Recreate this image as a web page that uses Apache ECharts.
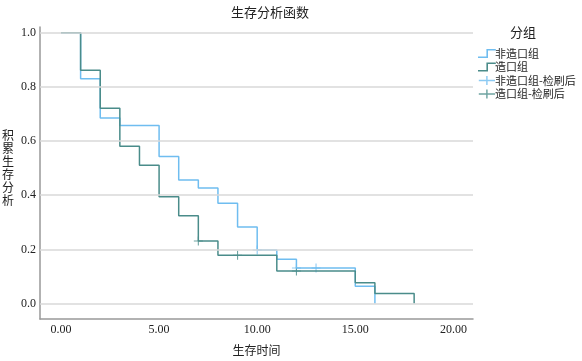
<!DOCTYPE html>
<html>
<head>
<meta charset="utf-8">
<script src="https://cdn.jsdelivr.net/npm/echarts@6/dist/echarts.min.js"></script>
<style>
  html, body { margin: 0; padding: 0; background: #fff; }
  #chart { width: 582px; height: 361px; }
</style>
</head>
<body>
<div id="chart"></div>
<script>
// 非造口组
const blueTimes = [0, 1, 2, 3, 5, 6, 7, 8, 9, 10, 11, 12, 15, 16];
const blueSurv = [1, 0.83, 0.685, 0.657, 0.543, 0.456, 0.427, 0.37, 0.283, 0.198, 0.164, 0.131, 0.064, 0];
const blueCensorT = [10, 12, 13];
const blueCensorS = [0.198, 0.131, 0.131];
// 造口组
const greenTimes = [0, 1, 2, 3, 4, 5, 6, 7, 8, 11, 15, 16, 18];
const greenSurv = [1, 0.861, 0.721, 0.581, 0.511, 0.394, 0.324, 0.231, 0.178, 0.12, 0.077, 0.037, 0];
const greenCensorT = [7, 9, 12];
const greenCensorS = [0.231, 0.178, 0.12];

const xTicks = [0, 5, 10, 15, 20];
const yTicks = [0, 0.2, 0.4, 0.6, 0.8, 1.0];

const BLUE = "#6fbdf0";
const GREEN = "#4a8c8a";
const stepIcon = "path://M0,7.5 L8.5,7.5 L8.5,0 L18,0 L18,1.6 L10.1,1.6 L10.1,9.1 L0,9.1 Z";
const plusIcon = "path://M0,4.2 L18,4.2 L18,5.8 L0,5.8 Z M8.2,0 L9.8,0 L9.8,10 L8.2,10 Z";
const plusMark = "path://M0,4.4 L10,4.4 L10,5.6 L0,5.6 Z M4.4,0 L5.6,0 L5.6,10 L4.4,10 Z";

const zip = (a, b) => a.map((v, i) => [v, b[i]]);

const chart = echarts.init(document.getElementById("chart"));
chart.setOption({
  animation: false,
  textStyle: { fontFamily: "'Noto Sans CJK SC', sans-serif", color: "#222" },
  title: [
    {
      text: "生存分析函数",
      left: 226,
      top: 1,
      textStyle: { fontSize: 13, fontWeight: "normal", color: "#222" },
    },
    {
      text: "分组",
      left: 505,
      top: 21,
      textStyle: { fontSize: 13, fontWeight: "normal", color: "#222" },
    },
  ],
  legend: {
    orient: "vertical",
    left: 473,
    top: 43,
    itemWidth: 18,
    itemHeight: 9,
    itemGap: 2.5,
    textStyle: { fontSize: 11, color: "#222", padding: [0, 0, 0, -6] },
    data: [
      { name: "非造口组", icon: stepIcon },
      { name: "造口组", icon: stepIcon },
      { name: "非造口组-检刷后", icon: plusIcon },
      { name: "造口组-检刷后", icon: plusIcon },
    ],
  },
  graphic: [
    {
      type: "text",
      left: 2,
      top: 129,
      style: {
        text: "积\n累\n生\n存\n分\n析",
        font: "12px 'Noto Sans CJK SC'",
        lineHeight: 13,
        fill: "#222",
      },
    },
  ],
  grid: { left: 40, right: 109, top: 27, bottom: 39 },
  xAxis: {
    type: "value",
    min: -1.07,
    max: 21.0,
    name: "生存时间",
    nameLocation: "middle",
    nameGap: 25,
    nameTextStyle: { fontSize: 12, color: "#222" },
    axisLine: { show: true, onZero: false, lineStyle: { color: "#999", width: 1.5 } },
    axisTick: { show: false },
    splitLine: { show: false },
    axisLabel: {
      customValues: xTicks,
      formatter: (v) => v.toFixed(2),
      fontFamily: "'Liberation Serif', serif",
      fontSize: 12,
      color: "#222",
      margin: 5,
    },
  },
  yAxis: {
    type: "value",
    min: -0.057,
    max: 1.021,
    axisLine: { show: true, onZero: false, lineStyle: { color: "#999", width: 1.5 } },
    axisTick: { show: false },
    splitLine: { show: false },
    axisLabel: {
      customValues: yTicks,
      formatter: (v) => v.toFixed(1),
      fontFamily: "'Liberation Serif', serif",
      fontSize: 12,
      color: "#222",
      margin: 4,
    },
  },
  series: [
    {
      name: "grid",
      type: "line",
      data: [],
      silent: true,
      markLine: {
        silent: true,
        symbol: "none",
        label: { show: false },
        lineStyle: { color: "#d9d9d9", width: 1.5, type: "solid" },
        data: yTicks.map((v) => ({ yAxis: v })),
      },
    },
    {
      name: "非造口组",
      type: "line",
      step: "end",
      showSymbol: false,
      data: zip(blueTimes, blueSurv),
      lineStyle: { color: BLUE, width: 1.5 },
      itemStyle: { color: BLUE },
    },
    {
      name: "造口组",
      type: "line",
      step: "end",
      showSymbol: false,
      data: zip(greenTimes, greenSurv),
      lineStyle: { color: GREEN, width: 1.5 },
      itemStyle: { color: GREEN },
    },
    {
      name: "非造口组-检刷后",
      type: "scatter",
      symbol: plusMark,
      symbolSize: 9,
      data: zip(blueCensorT, blueCensorS),
      itemStyle: { color: BLUE },
    },
    {
      name: "造口组-检刷后",
      type: "scatter",
      symbol: plusMark,
      symbolSize: 9,
      data: zip(greenCensorT, greenCensorS),
      itemStyle: { color: GREEN },
    },
  ],
});
</script>
</body>
</html>
